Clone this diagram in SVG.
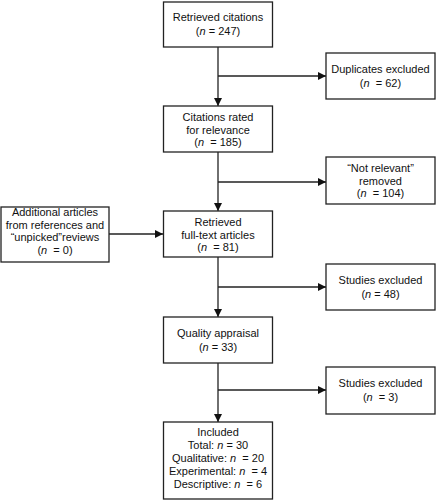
<svg xmlns="http://www.w3.org/2000/svg" width="436" height="500" viewBox="0 0 436 500">
<defs>
<marker id="ah" viewBox="0 0 10 10" refX="10" refY="5" markerWidth="8" markerHeight="8" markerUnits="userSpaceOnUse" orient="auto">
<path d="M0,0 L10,5 L0,10 Z" fill="#111"/>
</marker>
<style>
.box{fill:#fff;stroke:#222;stroke-width:1.3}
.t{font-family:"Liberation Sans",Arial,sans-serif;font-size:11px;fill:#111;text-anchor:middle;white-space:pre}
.c{stroke:#222;stroke-width:1.3;fill:none}
.a{stroke:#222;stroke-width:1.3;fill:none;marker-end:url(#ah)}
</style>
</defs>
<rect width="436" height="500" fill="#fff"/>
<g id="connectors">
<line class="c" x1="218" y1="47" x2="218" y2="76"/>
<line class="a" x1="218" y1="76" x2="218" y2="106"/>
<line class="a" x1="218" y1="76" x2="326" y2="76"/>
<line class="c" x1="218" y1="152" x2="218" y2="182"/>
<line class="a" x1="218" y1="182" x2="218" y2="211"/>
<line class="a" x1="218" y1="182" x2="326" y2="182"/>
<line class="a" x1="109" y1="234" x2="163" y2="234"/>
<line class="c" x1="218" y1="257" x2="218" y2="287"/>
<line class="a" x1="218" y1="287" x2="218" y2="317"/>
<line class="a" x1="218" y1="287" x2="326" y2="287"/>
<line class="c" x1="218" y1="363" x2="218" y2="390"/>
<line class="a" x1="218" y1="390" x2="218" y2="422"/>
<line class="a" x1="218" y1="390" x2="326" y2="390"/>
</g>
<g id="retrieved-citations">
<rect class="box" x="163.5" y="2" width="109" height="45"/>
<text class="t" x="218" y="21">Retrieved citations</text>
<text class="t" x="218" y="35">(<tspan font-style="italic">n</tspan> = 247)</text>
</g>
<g id="duplicates-excluded">
<rect class="box" x="326" y="53" width="109" height="46"/>
<text class="t" x="380.5" y="73">Duplicates excluded</text>
<text class="t" x="380.5" y="87">(<tspan font-style="italic">n</tspan>  = 62)</text>
</g>
<g id="citations-rated">
<rect class="box" x="163.5" y="106" width="109" height="46"/>
<text class="t" x="218" y="121">Citations rated</text>
<text class="t" x="218" y="133.5">for relevance</text>
<text class="t" x="218" y="146">(<tspan font-style="italic">n</tspan>  = 185)</text>
</g>
<g id="not-relevant">
<rect class="box" x="326" y="157" width="109" height="47"/>
<text class="t" x="380.5" y="172">“Not relevant”</text>
<text class="t" x="380.5" y="184.5">removed</text>
<text class="t" x="380.5" y="197">(<tspan font-style="italic">n</tspan>  = 104)</text>
</g>
<g id="additional-articles">
<rect class="box" x="1" y="207" width="108" height="55"/>
<text class="t" x="55" y="216">Additional articles</text>
<text class="t" x="55" y="228.5">from references and</text>
<text class="t" x="55" y="241">“unpicked”reviews</text>
<text class="t" x="55" y="254">(<tspan font-style="italic">n</tspan>  = 0)</text>
</g>
<g id="retrieved-full-text">
<rect class="box" x="163.5" y="211" width="109" height="46"/>
<text class="t" x="218" y="226">Retrieved</text>
<text class="t" x="218" y="238.5">full-text articles</text>
<text class="t" x="218" y="251">(<tspan font-style="italic">n</tspan>  = 81)</text>
</g>
<g id="studies-excluded-48">
<rect class="box" x="326" y="264" width="109" height="46"/>
<text class="t" x="380.5" y="284">Studies excluded</text>
<text class="t" x="380.5" y="298">(<tspan font-style="italic">n</tspan> = 48)</text>
</g>
<g id="quality-appraisal">
<rect class="box" x="163.5" y="317" width="109" height="46"/>
<text class="t" x="218" y="337">Quality appraisal</text>
<text class="t" x="218" y="351">(<tspan font-style="italic">n</tspan> = 33)</text>
</g>
<g id="studies-excluded-3">
<rect class="box" x="326" y="367" width="109" height="47"/>
<text class="t" x="380.5" y="387">Studies excluded</text>
<text class="t" x="380.5" y="401">(<tspan font-style="italic">n</tspan>  = 3)</text>
</g>
<g id="included">
<rect class="box" x="163.5" y="422" width="109" height="77"/>
<text class="t" x="218" y="436">Included</text>
<text class="t" x="218" y="449">Total: <tspan font-style="italic">n</tspan> = 30</text>
<text class="t" x="218" y="462">Qualitative: <tspan font-style="italic">n</tspan>  = 20</text>
<text class="t" x="218" y="475">Experimental: <tspan font-style="italic">n</tspan>  = 4</text>
<text class="t" x="218" y="488">Descriptive: <tspan font-style="italic">n</tspan>  = 6</text>
</g>
</svg>
